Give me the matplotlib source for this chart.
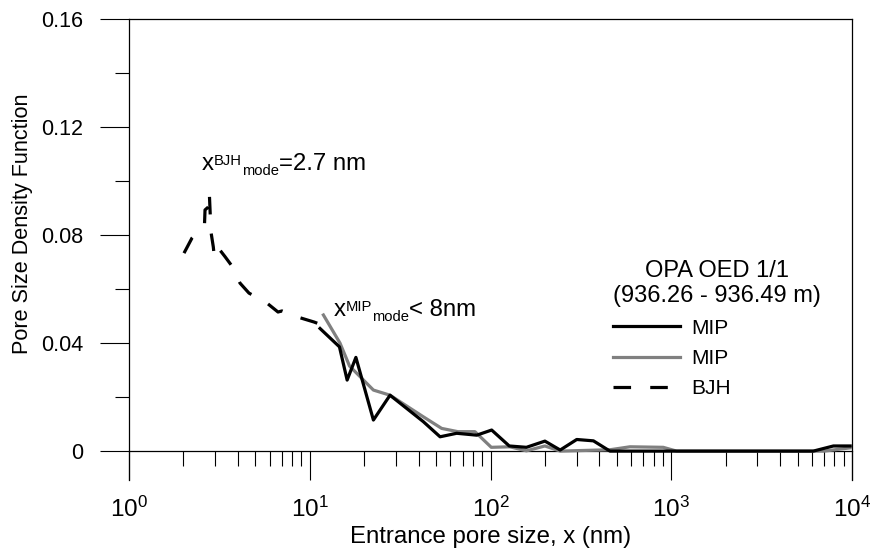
import matplotlib
matplotlib.use("Agg")
import matplotlib.pyplot as plt
from matplotlib.ticker import LogLocator, FixedLocator, NullFormatter

plt.rcParams['font.family'] = ['Liberation Sans', 'DejaVu Sans']
plt.rcParams['mathtext.fontset'] = 'custom'
plt.rcParams['mathtext.rm'] = 'Liberation Sans'
plt.rcParams['mathtext.it'] = 'Liberation Sans'
plt.rcParams['mathtext.bf'] = 'Liberation Sans:bold'

# ---- data ----
bjh_x = [2.015, 2.231, 2.617, 2.634, 2.824, 2.782, 2.842, 2.927, 2.965, 3.120, 3.398,
         3.714, 4.113, 4.612, 5.172, 5.800, 6.674, 7.023, 8.610, 10.56, 11.69]
bjh_y = [0.0733, 0.0789, 0.0841, 0.0893, 0.0911, 0.0956, 0.0811, 0.0756, 0.0719, 0.0752, 0.0720,
         0.0685, 0.0622, 0.0585, 0.0567, 0.0548, 0.0515, 0.0519, 0.0496, 0.0478, 0.0467]

mip1_x = [11.4, 14.6, 16.1, 18.0, 22.5, 27.8, 42.5, 52.6, 65, 83.9, 101.5, 127, 158, 200,
          243, 300, 371, 458, 1000, 3000, 6110, 7890, 9770]
mip1_y = [0.0454, 0.0386, 0.0263, 0.0347, 0.0115, 0.0207, 0.0109, 0.0053, 0.0066, 0.0059,
          0.0078, 0.0019, 0.0014, 0.0037, 0.0004, 0.0043, 0.0038, 0.0, 0.0, 0.0, 0.0, 0.0019, 0.0019]

mip2_x = [11.9, 14.7, 16.6, 22.5, 27.8, 42.5, 53.7, 66, 82, 101, 128, 158, 200, 243, 458,
          591, 903, 1070, 3000, 7000, 9770]
mip2_y = [0.0504, 0.040, 0.0315, 0.0226, 0.0207, 0.0127, 0.0084, 0.0072, 0.0072, 0.0014,
          0.0016, 0.0001, 0.0019, 0.0, 0.0005, 0.0016, 0.0014, 0.0, 0.0, 0.0, 0.0012]

y_ticks = [0, 0.04, 0.08, 0.12, 0.16]
y_tick_labels = ["0", "0.04", "0.08", "0.12", "0.16"]
y_minor = [0.02, 0.06, 0.10, 0.14]

legend_title = "OPA OED 1/1\n(936.26 - 936.49 m)"
labels = ["MIP", "MIP", "BJH"]

fig = plt.figure(figsize=(8.74, 5.53), dpi=100)
W, H = 874, 553
ax = fig.add_axes([129 / W, 1 - 480 / H, (852 - 129) / W, (480 - 19) / H])

l1, = ax.plot(mip1_x, mip1_y, color='black', lw=2.3, zorder=4)
l2, = ax.plot(mip2_x, mip2_y, color='#808080', lw=2.3, zorder=3)
l3, = ax.plot(bjh_x, bjh_y, color='black', lw=2.3, linestyle=(0, (5.5, 6)), zorder=4)

ax.set_xscale('log')
ax.set_xlim(1, 1e4)
ax.set_ylim(-0.0107, 0.16)

ax.spines['bottom'].set_position(('data', 0))
for s in ax.spines.values():
    s.set_linewidth(0.9)

ax.xaxis.set_major_locator(LogLocator(base=10, numticks=10))
ax.xaxis.set_minor_locator(LogLocator(base=10, subs=range(2, 10), numticks=100))
ax.xaxis.set_minor_formatter(NullFormatter())
ax.tick_params(axis='x', which='major', direction='out', length=21, width=0.8,
               labelsize=17.5, pad=12)
ax.tick_params(axis='x', which='minor', direction='out', length=10.5, width=0.8)

ax.set_yticks(y_ticks)
ax.set_yticklabels(y_tick_labels)
ax.yaxis.set_minor_locator(FixedLocator(y_minor))
ax.tick_params(axis='y', which='major', direction='out', length=21, width=0.8,
               labelsize=15.5, pad=12)
ax.tick_params(axis='y', which='minor', direction='out', length=10, width=0.8)

ax.set_xlabel("Entrance pore size, x (nm)", fontsize=17.3)
ax.xaxis.set_label_coords(0.5, (480 - 543) / 461, transform=ax.transAxes)
ax.xaxis.label.set_va('baseline')
ax.set_ylabel("Pore Size Density Function", fontsize=15.6)
ax.yaxis.set_label_coords(-(129 - 33) / 723, (480 - 224) / 461)


def mode_label(x0, y0, sup, rest):
    main = 17.3
    small = 10.6
    t0 = ax.text(x0, y0, "x", fontsize=main, va='baseline', ha='left')
    t1 = ax.annotate(sup, xy=(1, y0), xycoords=(t0, 'data'), xytext=(0.3, 3.6),
                     textcoords='offset points', fontsize=small, va='baseline', ha='left')
    t2 = ax.annotate("mode", xy=(1, y0), xycoords=(t1, 'data'), xytext=(-0.3, -3.8),
                     textcoords='offset points', fontsize=small, va='baseline', ha='left')
    ax.annotate(rest, xy=(1, y0), xycoords=(t2, 'data'), xytext=(0, 0),
                textcoords='offset points', fontsize=main, va='baseline', ha='left')


mode_label(2.52, 0.1041, "BJH", "=2.7 nm")
mode_label(13.5, 0.0500, "MIP", "< 8nm")

leg = ax.legend([l1, l2, l3], labels, title=legend_title, loc='upper left',
                bbox_to_anchor=((613 - 129) / 723, (480 - 260) / 461),
                frameon=False, fontsize=15, title_fontsize=17, borderpad=0,
                borderaxespad=0, handlelength=3.2, handletextpad=0.55, labelspacing=0.54,
                alignment='left')
leg.get_title().set_multialignment('center')

fig.savefig("out.png", dpi=100)
